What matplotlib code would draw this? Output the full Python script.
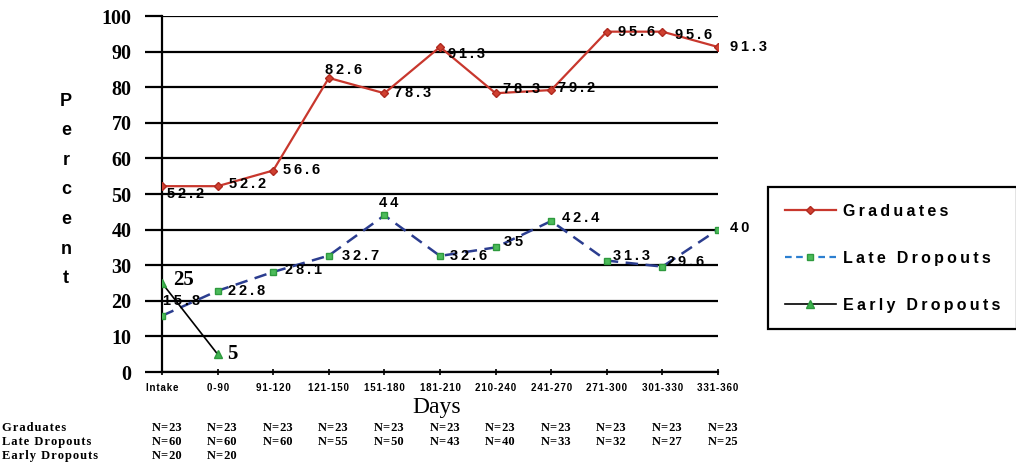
import numpy as np
import matplotlib
matplotlib.use('Agg')
import matplotlib.pyplot as plt
import matplotlib.transforms as mtransforms
from matplotlib.lines import Line2D

# %% data
categories = ['Intake', '0-90', '91-120', '121-150', '151-180', '181-210',
              '210-240', '241-270', '271-300', '301-330', '331-360']
graduates = [52.2, 52.2, 56.6, 82.6, 78.3, 91.3, 78.3, 79.2, 95.6, 95.6, 91.3]
late_dropouts = [15.8, 22.8, 28.1, 32.7, 44, 32.6, 35, 42.4, 31.3, 29.6, 40]
early_dropouts = [25, 5]

n_graduates = [23] * 11
n_late = [60, 60, 60, 55, 50, 43, 40, 33, 32, 27, 25]
n_early = [20, 20]

# label offsets in pixels (dx to left edge of text, dy of text centre)
grad_off = [(5, -8), (11, 2), (10, 1), (-4, 8), (10, 0), (8, -7),
            (7, 4), (7, 2), (11, 0), (13, -3), (12, 0)]
late_off = [(1, 15), (10, 0), (12, 2), (13, 0), (-5, 12), (10, 0),
            (8, 5), (11, 3), (6, 5), (5, 5), (12, 2)]
early_off = [(11, 3), (10, 0)]

SANS = ['Liberation Sans', 'DejaVu Sans']
SERIF = ['Liberation Serif', 'DejaVu Serif']
W, H = 1016, 465
PX = 72 / 100  # points per pixel


def spaced(s, sep='\u2009'):
  return sep.join(s)


fig = plt.figure(figsize=(W / 100, H / 100), dpi=100)
fig.patch.set_facecolor('white')
ax = fig.add_axes([162 / W, 1 - 372 / H, 556 / W, 356 / H])

x = np.arange(len(categories))
ax.set_xlim(0, len(categories) - 1)
ax.set_ylim(0, 100)

ax.set_yticks(np.arange(0, 101, 10))
ax.yaxis.grid(True, color='black', linewidth=1.6)
ax.set_axisbelow(True)
for side in ['top', 'right']:
  ax.spines[side].set_visible(False)
ax.spines['left'].set_linewidth(1.6)
ax.spines['bottom'].set_linewidth(1.6)
ax.tick_params(axis='y', length=12, width=1.6, pad=10)
ax.tick_params(axis='x', length=4, width=1.2, direction='inout', pad=6)
for lab in ax.get_yticklabels():
  lab.set_fontfamily(SERIF)
  lab.set_fontweight('bold')
  lab.set_fontsize(14.5)
ax.set_xticks(x)
ax.set_xticklabels([spaced(c, '\u200a') for c in categories],
                   fontfamily=SANS, fontweight='bold', fontsize=7)

# series
ax.plot(x, graduates, color='#c8372d', lw=1.6, marker='D', ms=4,
        mfc='#d04030', mec='#b02a20', zorder=3, label='Graduates')
ax.plot(x, late_dropouts, color='#2b3d8f', lw=1.8, ls=(0, (5, 3)), marker='s', ms=4.5,
        mfc='#4cbb5a', mec='#2e9a3e', zorder=3, label='Late Dropouts')
ax.plot(x[:len(early_dropouts)], early_dropouts, color='black', lw=1.2, marker='^', ms=6,
        mfc='#3fb24f', mec='#2e9a3e', zorder=4, label='Early Dropouts')


# data labels
def label_series(vals, offs, letter_spaced, **kw):
  for xi, v, (dx, dy) in zip(x, vals, offs):
    txt = f'{v:g}'
    if letter_spaced:
      txt = spaced(txt)
    ax.annotate(txt, (xi, v), xytext=(dx * PX, dy * PX), textcoords='offset points',
                ha='left', va='center', zorder=5, **kw)


label_series(graduates, grad_off, True, fontfamily=SANS, fontweight='bold', fontsize=10.5)
label_series(late_dropouts, late_off, True, fontfamily=SANS, fontweight='bold', fontsize=10.5)
label_series(early_dropouts, early_off, False, fontfamily=SERIF, fontweight='bold', fontsize=15)

# y label, one letter per line
for i, ch in enumerate('Percent'):
  fig.text(66 / W, 1 - (101 + i * 29.6) / H, ch, ha='center', va='center',
           fontfamily=SANS, fontweight='bold', fontsize=13)

fig.text(437 / W, 1 - 407 / H, 'Days', ha='center', va='center',
         fontfamily=SERIF, fontsize=17)

# N table under the axis
trans = mtransforms.blended_transform_factory(ax.transData, fig.transFigure)
rows = [('Graduates', n_graduates, 428), ('Late Dropouts', n_late, 442),
        ('Early Dropouts', n_early, 456)]
for name, ns, ypx in rows:
  fig.text(2 / W, 1 - ypx / H, spaced(name, '\u200a'), ha='left', va='center',
           fontfamily=SERIF, fontweight='bold', fontsize=9)
  for xi, n in zip(x, ns):
    ax.text(xi + 0.08, 1 - ypx / H, f'N=\u200a{n}', transform=trans, ha='center',
            va='center', fontfamily=SERIF, fontweight='bold', fontsize=9)

handles = [
  Line2D([], [], color='#c8372d', lw=1.6, marker='D', ms=4, mfc='#d04030', mec='#b02a20'),
  Line2D([], [], color='#2b7fd0', lw=1.6, ls=(0, (3, 2)), marker='s', ms=4.5,
         mfc='#4cbb5a', mec='#2e9a3e'),
  Line2D([], [], color='black', lw=1.2, marker='^', ms=6, mfc='#3fb24f', mec='#2e9a3e'),
]
leg = fig.legend(handles, [spaced(s) for s in ['Graduates', 'Late Dropouts', 'Early Dropouts']],
                 loc='upper left', bbox_to_anchor=(768 / W, 1 - 187 / H),
                 prop={'family': SANS, 'weight': 'bold', 'size': 11.5},
                 frameon=True, fancybox=False, framealpha=1, edgecolor='black',
                 handlelength=3.2, handletextpad=0.45, labelspacing=2.0,
                 borderpad=1.05, borderaxespad=0)
leg.get_frame().set_linewidth(1.6)

fig.savefig('out.png', dpi=100)
